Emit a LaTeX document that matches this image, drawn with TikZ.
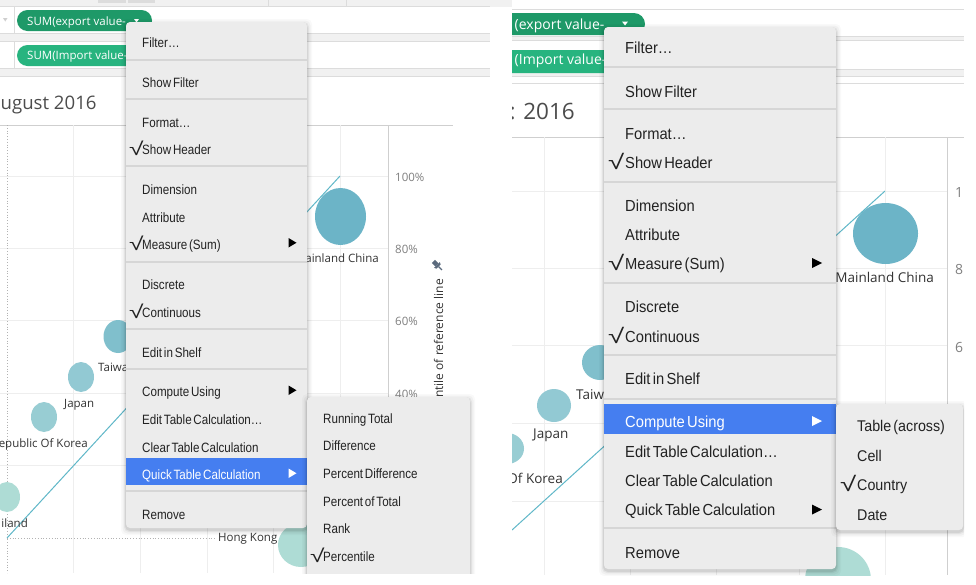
\documentclass[tikz,border=0pt]{standalone}
\usepackage{fontspec}
\setmainfont{Open Sans}
\newfontfamily\menuL[FakeStretch=0.86,WordSpace=0.55]{Liberation Sans}
\newfontfamily\menuR[FakeStretch=0.92,WordSpace=0.55]{Liberation Sans}
\newfontfamily\chkfont{Liberation Sans}
\definecolor{menubg}{HTML}{ECECEC}
\definecolor{menuhl}{HTML}{457EF0}
\definecolor{sepgray}{HTML}{D6D6D6}
\definecolor{pilldark}{HTML}{1E9968}
\definecolor{pilllight}{HTML}{27B47F}
\definecolor{bubdark}{HTML}{6CB4C7}
\definecolor{bubtai}{HTML}{80BFCC}
\definecolor{bubmid}{HTML}{92C9D3}
\definecolor{bublight}{HTML}{AEDCD5}
\definecolor{refline}{HTML}{5FB7C8}
\definecolor{gridgray}{HTML}{EEEEEE}
\definecolor{axisgray}{HTML}{CFCFCF}
\definecolor{shelfline}{HTML}{DCDCDC}
\definecolor{shelfband}{HTML}{F1F1F1}
\definecolor{menutext}{HTML}{222222}
\definecolor{ticktext}{HTML}{808080}
\definecolor{labtext}{HTML}{333333}
\definecolor{pingray}{HTML}{5B6A7D}
\newcommand{\mychkL}{\scalebox{1.55}[1.08]{\chkfont\fontsize{17}{17}\selectfont √}}
\newcommand{\mychkR}{\scalebox{1.55}[1.08]{\chkfont\fontsize{19}{19}\selectfont √}}
\tikzset{
  mL/.style={anchor=base west, inner sep=0pt, text=menutext, font=\menuL\fontsize{13.5}{16}\selectfont},
  mR/.style={anchor=base west, inner sep=0pt, text=menutext, font=\menuR\fontsize{16}{19}\selectfont},
  ckL/.style={anchor=base west, inner sep=0pt, text=menutext},
  menusep/.style={draw=sepgray, line width=2pt},
  gridline/.style={draw=gridgray, line width=0.9pt},
  axisline/.style={draw=axisgray, line width=0.9pt},
  shelf/.style={draw=shelfline, line width=0.8pt},
  labL/.style={inner sep=0pt, text=labtext, font=\fontsize{11.5}{13}\selectfont},
  labR/.style={inner sep=0pt, text=labtext, font=\fontsize{13.5}{15}\selectfont},
  tickL/.style={anchor=west, inner sep=0pt, text=ticktext, font=\fontsize{11.5}{13}\selectfont},
  tickR/.style={anchor=west, inner sep=0pt, text=ticktext, font=\fontsize{14}{16}\selectfont},
  pilltxt/.style={anchor=base west, inner sep=0pt, text=white},
  subarrow/.style={fill=black},
}
\begin{document}
\begin{tikzpicture}[x=1pt,y=-1pt]
\useasboundingbox (0,0) rectangle (976,584);
\fill[white] (0,0) rectangle (976,584);
\fill[shelfband] (490,0) rectangle (514,7);

%% ================= LEFT PANEL =================
\begin{scope}
\clip (0,0) rectangle (490,573);
\fill[white] (0,0) rectangle (490,573);
% top strip and shelves
\fill[shelfband] (0,0) rectangle (490,6);
\fill[shelfline] (98,0) rectangle (126,2.5);
\fill[shelfline] (128,0) rectangle (155,2.5);
\draw[shelf] (268,0) -- (268,6);
\draw[shelf] (346,0) -- (346,6);
\fill[shelfband] (0,33) rectangle (490,41);
\fill[shelfband] (0,68) rectangle (490,76);
\draw[shelf] (0,6) -- (490,6);
\draw[shelf] (0,33) -- (490,33);
\draw[shelf] (0,41) -- (490,41);
\draw[shelf] (0,68) -- (490,68);
\draw[shelf] (0,76) -- (490,76);
\draw[shelf] (14,6) -- (14,33);
\draw[shelf] (14,41) -- (14,68);
\fill[axisgray] (3,18) -- (7.5,18) -- (5.25,21.5) -- cycle;
% pills
\fill[pilldark, rounded corners=10.5pt] (17,10) rectangle (152,31);
\node[pilltxt, font=\fontsize{11.5}{13}\selectfont] (lp1) at (27,25) {SUM(export value-...};
\fill[white] (134,19) -- (139,19) -- (136.5,22.5) -- cycle;
\fill[pilllight, rounded corners=10.5pt] (17,45) rectangle (150,66);
\node[pilltxt, font=\fontsize{11.5}{13}\selectfont] (lp2) at (27,59) {SUM(Import value-...};
% title
\node[anchor=base west, inner sep=0pt, text=black!70, font=\fontsize{18.6}{21}\selectfont] (ltitle) at (0.5,109) {ugust 2016};
% grid
\draw[axisline] (0,125) -- (453,125);
\foreach \gx in {73,140,207,273,340} \draw[gridline] (\gx,125) -- (\gx,573);
\foreach \gy in {176,248,320,393,465} \draw[gridline] (0,\gy) -- (388,\gy);
\draw[draw=black!30, dotted, line width=0.8pt] (7,125) -- (7,573);
\draw[draw=black!30, dotted, line width=0.8pt] (7,538) -- (216,538);
\draw[axisline] (388,125) -- (388,573);
% axis ticks
\node[tickL] (lt100) at (395,177) {100\%};
\node[tickL] (lt80) at (395,249) {80\%};
\node[tickL] (lt60) at (395,321) {60\%};
\node[tickL] (lt40) at (395,394) {40\%};
\node[rotate=90, anchor=east, inner sep=0pt, text=labtext, font=\fontsize{12}{14}\selectfont] (laxis) at (438.5,279) {ntile of reference line};
% pin
\begin{scope}[shift={(438,266)}, rotate=45]
\fill[pingray] (-2.2,-6.5) rectangle (2.2,-1.5);
\fill[pingray] (-4,-1.5) -- (4,-1.5) -- (3,0.8) -- (-3,0.8) -- cycle;
\draw[pingray, line width=1.1pt] (0,0.8) -- (0,5.5);
\end{scope}
% reference line and bubbles
\draw[refline, line width=1pt] (7,538) -- (340,176);
\fill[bubdark] (340.5,216.5) ellipse [x radius=25.5, y radius=28.5];
\fill[bubtai] (118,336.5) ellipse [x radius=14.5, y radius=16.5];
\fill[bubmid] (81,377) ellipse [x radius=13, y radius=15];
\fill[bubmid!80!bublight] (44,417) ellipse [x radius=13, y radius=15];
\fill[bublight] (7,497) ellipse [x radius=13, y radius=15];
\fill[bublight] (301,545) ellipse [x radius=23, y radius=22];
% country labels
\node[labL, anchor=base east] (lchina) at (379,262) {Mainland China};
\node[labL, anchor=base west] (ltaiwan) at (98,371) {Taiwan};
\node[labL, anchor=base west] (ljapan) at (64,407) {Japan};
\node[labL, anchor=base east] (lkorea) at (88,447) {epublic Of Korea};
\node[labL, anchor=base east] (lthai) at (28,527) {iland};
\node[labL, anchor=base west] (lhk) at (218,541) {Hong Kong};
% main menu shadow
\foreach \o/\op in {5/0.025,3.5/0.035,2/0.05,1/0.07}
  \fill[black, opacity=\op, rounded corners=5pt] (126-\o,22-\o+2) rectangle (307+\o,528+\o+2);
\fill[menubg, rounded corners=4pt] (126,22) rectangle (307,528);
\foreach \sy in {60,99,166,262,329,369,491} \draw[menusep] (126,\sy) -- (307,\sy);
\fill[menuhl] (126,458) rectangle (307,485);
\node[mL] (lm1) at (142,47) {Filter…};
\node[mL] (lm2) at (142,87) {Show Filter};
\node[mL] (lm3) at (142,127) {Format…};
\node[ckL] (lc4) at (129,155) {\mychkL};
\node[mL] (lm4) at (142,154) {Show Header};
\node[mL] (lm5) at (142,194) {Dimension};
\node[mL] (lm6) at (142,222) {Attribute};
\node[ckL] (lc7) at (129,250) {\mychkL};
\node[mL] (lm7) at (142,249) {Measure (Sum)};
\node[mL] (lm8) at (142,289) {Discrete};
\node[ckL] (lc9) at (129,318) {\mychkL};
\node[mL] (lm9) at (142,317) {Continuous};
\node[mL] (lm10) at (142,357) {Edit in Shelf};
\node[mL] (lm11) at (142,396) {Compute Using};
\node[mL] (lm12) at (142,424) {Edit Table Calculation…};
\node[mL] (lm13) at (142,452) {Clear Table Calculation};
\node[mL, text=white] (lm14) at (142,479) {Quick Table Calculation};
\node[mL] (lm15) at (142,519) {Remove};
\fill[subarrow] (288.5,238) -- (296.5,242.75) -- (288.5,247.5) -- cycle;
\fill[subarrow] (288.5,385.5) -- (296.5,390.25) -- (288.5,395) -- cycle;
\fill[white] (288.5,468.5) -- (296.5,473.25) -- (288.5,478) -- cycle;
% submenu
\foreach \o/\op in {5/0.025,3.5/0.035,2/0.05,1/0.07}
  \fill[black, opacity=\op, rounded corners=5pt] (307-\o,397-\o+2) rectangle (470+\o,600);
\fill[menubg, rounded corners=4pt] (307,397) rectangle (470,600);
\node[mL] (ls1) at (323,423) {Running Total};
\node[mL] (ls2) at (323,450) {Difference};
\node[mL] (ls3) at (323,478) {Percent Difference};
\node[mL] (ls4) at (323,506) {Percent of Total};
\node[mL] (ls5) at (323,533) {Rank};
\node[ckL] (lc6) at (310,562) {\mychkL};
\node[mL] (ls6) at (323,561) {Percentile};
\end{scope}

%% ================= RIGHT PANEL =================
\begin{scope}
\clip (512,0) rectangle (964,575);
\fill[white] (512,0) rectangle (964,575);
\fill[shelfband] (512,36) rectangle (964,40);
\fill[shelfband] (512,69) rectangle (964,76);
\draw[shelf] (512,9) -- (964,9);
\draw[shelf] (512,36) -- (964,36);
\draw[shelf] (512,40) -- (964,40);
\draw[shelf] (512,69) -- (964,69);
\draw[shelf] (512,76) -- (964,76);
\draw[shelf] (512,83) -- (964,83);
% pills
\fill[pilldark, rounded corners=11pt] (480,13) rectangle (645,35);
\node[pilltxt, font=\fontsize{14}{16}\selectfont] (rp1) at (514.5,29) {(export value-};
\fill[white] (622,21.5) -- (628,21.5) -- (625,25.5) -- cycle;
\fill[pilllight, rounded corners=11pt] (480,50) rectangle (640,73);
\node[pilltxt, font=\fontsize{14}{16}\selectfont] (rp2) at (514.5,64) {(Import value-...};
% title
\node[anchor=base east, inner sep=0pt, text=black!70, font=\fontsize{22.5}{25}\selectfont] (rtitle) at (575,119) {: 2016};
% grid
\draw[axisline] (512,137) -- (964,137);
\foreach \gx in {544,630,716,799,885} \draw[gridline] (\gx,137) -- (\gx,575);
\foreach \gy in {191,268,345,423,501} \draw[gridline] (512,\gy) -- (947,\gy);
\draw[axisline] (947,137) -- (947,575);
\node[tickR] (rt100) at (955,192) {1};
\node[tickR] (rt80) at (955,269) {8};
\node[tickR] (rt60) at (955,347) {6};
% reference line and bubbles
\draw[refline, line width=1pt] (512,530) -- (885,191);
\fill[bubdark] (885.5,233.5) ellipse [x radius=32.5, y radius=30.5];
\fill[bubtai] (600,362.5) ellipse [x radius=18, y radius=17.5];
\fill[bubmid] (554,405.5) ellipse [x radius=17, y radius=16.5];
\fill[bubmid!80!bublight] (507,448.5) ellipse [x radius=17, y radius=15.5];
\fill[bublight] (838,580) circle [radius=33];
\node[labR, anchor=base east] (rchina) at (934,282) {Mainland China};
\node[labR, anchor=base west] (rtaiwan) at (576,399) {Taiwan};
\node[labR, anchor=base west] (rjapan) at (533,438) {Japan};
\node[labR, anchor=base east] (rkorea) at (563,483) {Of Korea};
% main menu
\foreach \o/\op in {5/0.025,3.5/0.035,2/0.05,1/0.07}
  \fill[black, opacity=\op, rounded corners=5pt] (604-\o,27-\o+2) rectangle (836+\o,569+\o+2);
\fill[menubg, rounded corners=4pt] (604,27) rectangle (836,569);
\foreach \sy in {67,109,182,283,355,399,528} \draw[menusep] (604,\sy) -- (836,\sy);
\fill[menuhl] (604,404) rectangle (836,434);
\node[mR] (rm1) at (625,53) {Filter…};
\node[mR] (rm2) at (625,97) {Show Filter};
\node[mR] (rm3) at (625,139) {Format…};
\node[ckL] (rc4) at (608,169) {\mychkR};
\node[mR] (rm4) at (625,168) {Show Header};
\node[mR] (rm5) at (625,211) {Dimension};
\node[mR] (rm6) at (625,240) {Attribute};
\node[ckL] (rc7) at (608,270) {\mychkR};
\node[mR] (rm7) at (625,269) {Measure (Sum)};
\node[mR] (rm8) at (625,312) {Discrete};
\node[ckL] (rc9) at (608,343) {\mychkR};
\node[mR] (rm9) at (625,342) {Continuous};
\node[mR] (rm10) at (625,384) {Edit in Shelf};
\node[mR, text=white] (rm11) at (625,427) {Compute Using};
\node[mR] (rm12) at (625,457) {Edit Table Calculation…};
\node[mR] (rm13) at (625,486) {Clear Table Calculation};
\node[mR] (rm14) at (625,515) {Quick Table Calculation};
\node[mR] (rm15) at (625,558) {Remove};
\fill[subarrow] (812,258) -- (822,263) -- (812,268) -- cycle;
\fill[white] (812,416) -- (822,421) -- (812,426) -- cycle;
\fill[subarrow] (812,504.5) -- (822,509.5) -- (812,514.5) -- cycle;
% submenu
\foreach \o/\op in {5/0.025,3.5/0.035,2/0.05,1/0.07}
  \fill[black, opacity=\op, rounded corners=5pt] (836-\o,404-\o+2) rectangle (963+\o,530+\o+2);
\fill[menubg, rounded corners=4pt] (836,404) rectangle (963,530);
\node[mR, font=\menuR\fontsize{15.5}{18}\selectfont] (rs1) at (857,431) {Table (across)};
\node[mR, font=\menuR\fontsize{15.5}{18}\selectfont] (rs2) at (857,461) {Cell};
\node[ckL] (rc13) at (840,491) {\mychkR};
\node[mR, font=\menuR\fontsize{15.5}{18}\selectfont] (rs3) at (857,490) {Country};
\node[mR, font=\menuR\fontsize{15.5}{18}\selectfont] (rs4) at (857,520) {Date};
\end{scope}
\end{tikzpicture}
\end{document}
